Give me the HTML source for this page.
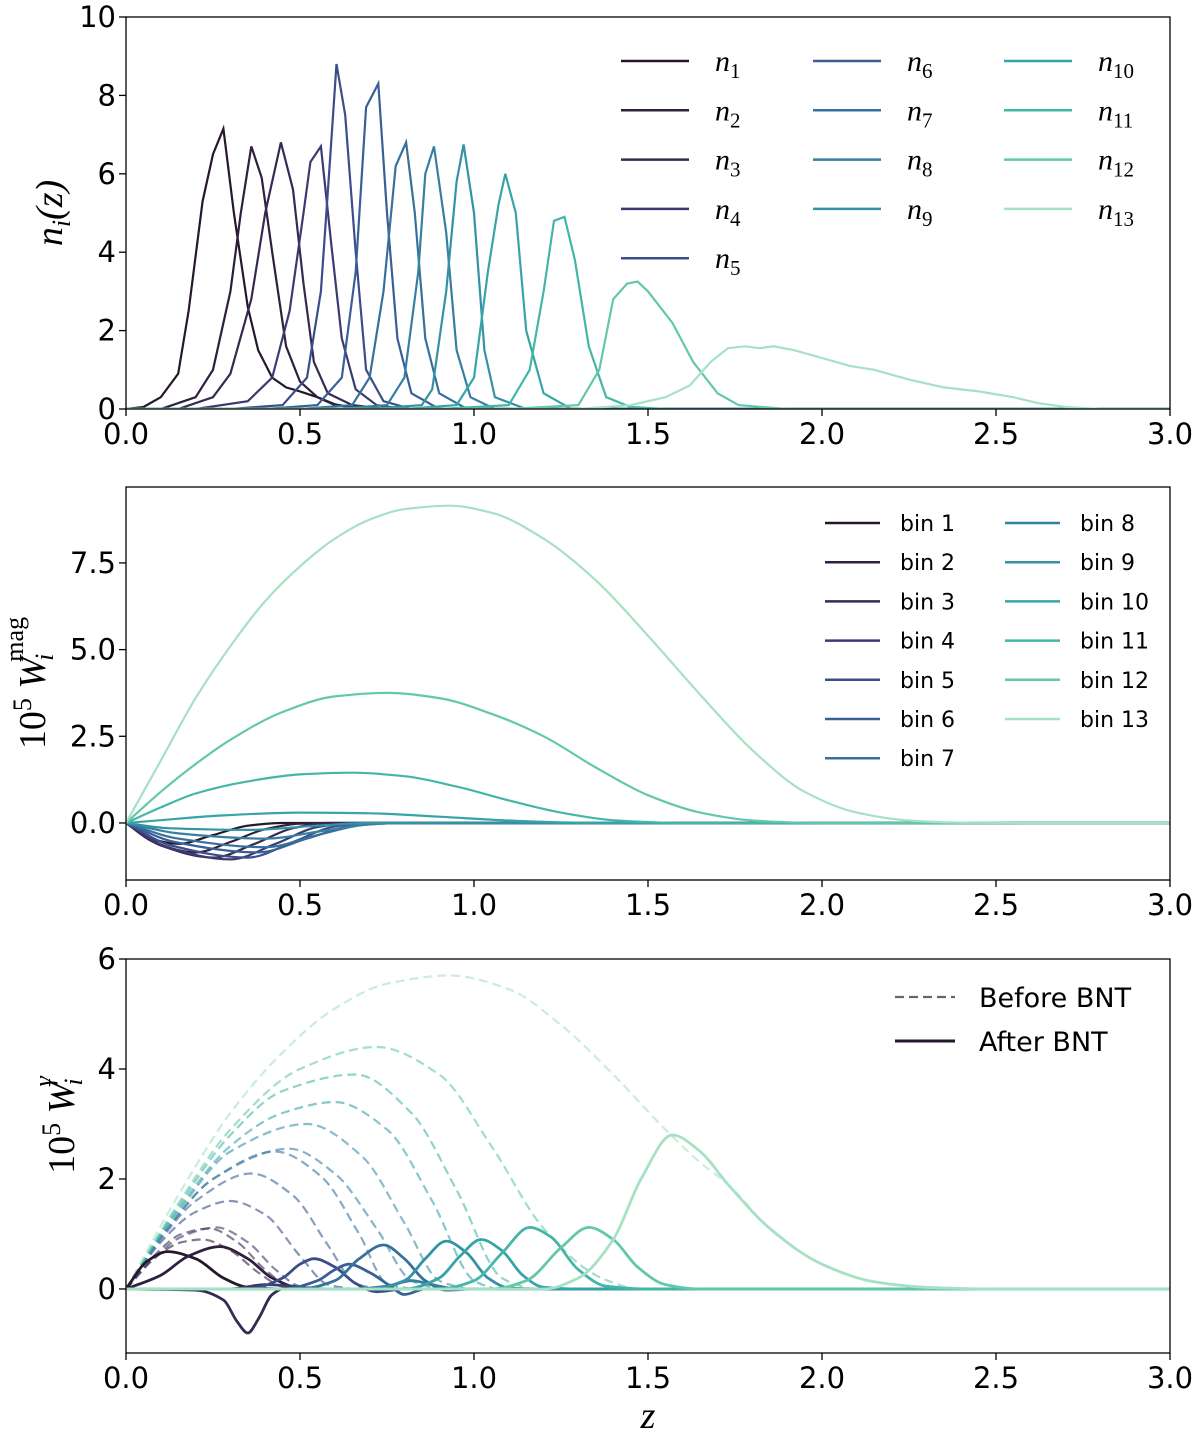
<!DOCTYPE html>
<html><head><meta charset="utf-8"><style>
body{margin:0;background:#fff}
svg{display:block}
text{font-family:"DejaVu Sans","Liberation Sans",sans-serif;fill:#000}
.serif{font-family:"Liberation Serif","DejaVu Serif",serif;font-style:italic}
</style></head><body>
<svg id="c" width="1200" height="1443" viewBox="0 0 1200 1443" xmlns="http://www.w3.org/2000/svg"></svg>
<script>
const colors=["#26172a","#2f1f3e","#362a52","#3b3a72","#3b4d8a","#3a5f96","#38709c","#3580a1","#3592a5","#37a4a8","#44b6a8","#62c8a8","#a6e1c3"];
const xTicks=[0,0.5,1,1.5,2,2.5,3];
const xTickLabels=["0.0","0.5","1.0","1.5","2.0","2.5","3.0"];
const p1YTicks=[0,2,4,6,8,10];
const p2YTicks=[0,2.5,5,7.5];
const p2YTickLabels=["0.0","2.5","5.0","7.5"];
const p3YTicks=[0,2,4,6];
const nz=[
[[0,0],[0.05,0.05],[0.1,0.3],[0.15,0.9],[0.18,2.5],[0.22,5.3],[0.25,6.5],[0.28,7.15],[0.31,5.0],[0.35,2.6],[0.38,1.5],[0.42,0.8],[0.46,0.55],[0.5,0.45],[0.55,0.3],[0.6,0.12],[0.65,0.04],[0.7,0],[3,0]],
[[0,0],[0.1,0],[0.2,0.3],[0.25,1.0],[0.3,3.0],[0.33,5.0],[0.36,6.7],[0.39,5.9],[0.42,4.0],[0.46,1.6],[0.5,0.7],[0.55,0.3],[0.6,0.1],[0.7,0],[3,0]],
[[0,0],[0.15,0],[0.25,0.3],[0.3,0.9],[0.36,2.8],[0.4,5.0],[0.445,6.8],[0.48,5.6],[0.51,3.2],[0.54,1.2],[0.58,0.4],[0.65,0.1],[0.75,0],[3,0]],
[[0,0],[0.2,0],[0.35,0.2],[0.42,0.8],[0.47,2.5],[0.51,5.0],[0.53,6.3],[0.56,6.7],[0.59,4.2],[0.62,1.8],[0.66,0.5],[0.72,0.1],[0.8,0],[3,0]],
[[0,0],[0.3,0],[0.45,0.1],[0.52,0.8],[0.56,3.0],[0.585,6.2],[0.605,8.8],[0.63,7.5],[0.66,4.0],[0.69,1.0],[0.74,0.2],[0.82,0],[3,0]],
[[0,0],[0.4,0],[0.55,0.1],[0.62,0.8],[0.66,3.5],[0.69,7.7],[0.725,8.3],[0.75,5.0],[0.78,1.8],[0.82,0.4],[0.9,0],[3,0]],
[[0,0],[0.5,0],[0.65,0.1],[0.7,0.8],[0.74,3.0],[0.775,6.2],[0.805,6.8],[0.83,5.0],[0.86,1.8],[0.9,0.4],[0.98,0],[3,0]],
[[0,0],[0.6,0],[0.75,0.1],[0.8,0.8],[0.84,3.5],[0.86,6.0],[0.885,6.7],[0.92,4.5],[0.95,1.5],[0.99,0.3],[1.06,0],[3,0]],
[[0,0],[0.7,0],[0.85,0.1],[0.88,0.5],[0.92,3.0],[0.95,5.8],[0.97,6.75],[1.0,5.0],[1.03,1.5],[1.06,0.3],[1.15,0],[3,0]],
[[0,0],[0.8,0],[0.95,0.1],[1.0,0.8],[1.04,3.5],[1.07,5.2],[1.09,6.0],[1.12,5.0],[1.15,2.0],[1.2,0.4],[1.28,0],[3,0]],
[[0,0],[0.9,0],[1.1,0.1],[1.16,1.0],[1.2,3.0],[1.23,4.8],[1.26,4.9],[1.29,3.8],[1.33,1.6],[1.38,0.3],[1.45,0.05],[1.55,0],[3,0]],
[[0,0],[1.1,0],[1.3,0.1],[1.36,1.0],[1.4,2.8],[1.44,3.2],[1.47,3.25],[1.5,3.0],[1.57,2.2],[1.63,1.2],[1.7,0.4],[1.76,0.1],[1.9,0],[3,0]],
[[0,0],[1.3,0],[1.45,0.1],[1.55,0.3],[1.62,0.6],[1.68,1.2],[1.73,1.55],[1.78,1.6],[1.82,1.55],[1.86,1.6],[1.92,1.5],[2.0,1.3],[2.08,1.1],[2.15,1.0],[2.25,0.75],[2.35,0.55],[2.45,0.45],[2.55,0.3],[2.62,0.15],[2.7,0.05],[2.8,0],[3,0]]
];
const wmag=[
[[0,0],[0.07,-0.45],[0.15,-0.6],[0.25,-0.35],[0.35,-0.08],[0.45,0],[3,0]],
[[0,0],[0.08,-0.55],[0.2,-0.85],[0.3,-0.55],[0.4,-0.18],[0.5,-0.02],[0.6,0],[3,0]],
[[0,0],[0.1,-0.65],[0.25,-1.0],[0.37,-0.6],[0.48,-0.15],[0.58,0],[3,0]],
[[0,0],[0.12,-0.7],[0.3,-1.05],[0.43,-0.6],[0.55,-0.12],[0.65,0],[3,0]],
[[0,0],[0.13,-0.65],[0.35,-1.0],[0.48,-0.55],[0.6,-0.1],[0.7,0],[3,0]],
[[0,0],[0.14,-0.55],[0.38,-0.85],[0.52,-0.45],[0.65,-0.08],[0.75,0],[3,0]],
[[0,0],[0.15,-0.45],[0.4,-0.7],[0.55,-0.35],[0.68,-0.06],[0.78,0],[3,0]],
[[0,0],[0.15,-0.3],[0.4,-0.45],[0.57,-0.22],[0.7,-0.04],[0.8,0],[3,0]],
[[0,0],[0.12,-0.15],[0.35,-0.2],[0.55,-0.08],[0.7,0],[3,0]],
[[0,0],[0.1,0.08],[0.25,0.2],[0.5,0.3],[0.7,0.28],[0.9,0.18],[1.1,0.07],[1.3,0.01],[1.5,0],[3,0]],
[[0,0],[0.1,0.45],[0.2,0.85],[0.35,1.2],[0.5,1.4],[0.65,1.45],[0.8,1.35],[0.95,1.05],[1.1,0.65],[1.25,0.3],[1.4,0.08],[1.6,0],[3,0]],
[[0,0],[0.1,0.9],[0.2,1.7],[0.3,2.4],[0.45,3.2],[0.6,3.65],[0.75,3.75],[0.9,3.6],[1.05,3.15],[1.2,2.5],[1.35,1.6],[1.5,0.8],[1.65,0.3],[1.8,0.07],[2,0],[3,0]],
[[0,0],[0.1,1.8],[0.2,3.6],[0.3,5.1],[0.4,6.4],[0.5,7.4],[0.6,8.2],[0.7,8.75],[0.8,9.05],[0.93,9.15],[1.05,8.95],[1.2,8.2],[1.35,7.0],[1.5,5.4],[1.65,3.7],[1.8,2.1],[1.95,0.9],[2.1,0.3],[2.25,0.07],[2.4,0.01],[2.6,0],[3,0]]
];
const wBefore=[
[[0,0],[0.06,0.5],[0.12,0.68],[0.2,0.55],[0.28,0.2],[0.35,0.03],[0.45,0]],
[[0,0],[0.08,0.55],[0.16,0.85],[0.22,0.9],[0.3,0.7],[0.38,0.3],[0.45,0.04],[0.5,0]],
[[0,0],[0.08,0.6],[0.16,1.0],[0.24,1.1],[0.32,0.85],[0.4,0.35],[0.47,0.05],[0.55,0]],
[[0,0],[0.08,0.55],[0.16,0.95],[0.26,1.12],[0.35,0.85],[0.43,0.35],[0.5,0.05],[0.58,0]],
[[0,0],[0.1,0.85],[0.2,1.4],[0.3,1.6],[0.4,1.35],[0.5,0.6],[0.58,0.08],[0.65,0]],
[[0,0],[0.1,0.9],[0.2,1.6],[0.36,2.1],[0.48,1.7],[0.58,0.8],[0.66,0.1],[0.72,0]],
[[0,0],[0.12,1.1],[0.25,2.0],[0.43,2.5],[0.56,2.05],[0.67,1.0],[0.75,0.1],[0.82,0]],
[[0,0],[0.12,1.1],[0.25,2.0],[0.47,2.55],[0.6,2.1],[0.72,1.1],[0.82,0.15],[0.9,0]],
[[0,0],[0.15,1.4],[0.3,2.5],[0.52,3.0],[0.68,2.4],[0.8,1.2],[0.9,0.15],[0.98,0]],
[[0,0],[0.15,1.45],[0.3,2.6],[0.45,3.2],[0.6,3.4],[0.75,2.9],[0.88,1.6],[1.0,0.15],[1.06,0]],
[[0,0],[0.15,1.5],[0.3,2.8],[0.45,3.6],[0.66,3.9],[0.82,3.2],[0.95,1.8],[1.08,0.2],[1.16,0]],
[[0,0],[0.15,1.55],[0.3,2.9],[0.5,4.0],[0.72,4.4],[0.9,3.9],[1.05,2.6],[1.2,1.1],[1.35,0.25],[1.45,0]],
[[0,0],[0.15,1.7],[0.3,3.2],[0.45,4.3],[0.6,5.1],[0.75,5.55],[0.93,5.7],[1.1,5.45],[1.25,4.8],[1.4,3.9],[1.55,2.9],[1.65,2.3],[1.73,1.9],[1.85,1.1],[2.0,0.45],[2.15,0.13],[2.3,0.03],[2.5,0],[3,0]]
];
const wAfter=[
[[0,0],[0.06,0.5],[0.12,0.68],[0.2,0.55],[0.28,0.2],[0.35,0.03],[0.45,0],[3,0]],
[[0,0],[0.1,0.25],[0.18,0.6],[0.27,0.77],[0.35,0.55],[0.42,0.2],[0.5,0.02],[0.6,0],[3,0]],
[[0,0],[0.2,-0.02],[0.28,-0.2],[0.32,-0.6],[0.35,-0.8],[0.38,-0.55],[0.42,-0.1],[0.46,0.02],[0.5,0],[3,0]],
[[0,0],[0.3,0],[0.4,0.08],[0.48,0.05],[0.55,0],[3,0]],
[[0,0],[0.35,0],[0.45,0.2],[0.5,0.45],[0.54,0.55],[0.6,0.4],[0.66,0.1],[0.72,-0.05],[0.8,0],[3,0]],
[[0,0],[0.45,0],[0.55,0.15],[0.6,0.35],[0.64,0.45],[0.7,0.3],[0.76,0.05],[0.8,-0.1],[0.86,0],[3,0]],
[[0,0],[0.5,0],[0.6,0.15],[0.67,0.55],[0.74,0.8],[0.8,0.55],[0.86,0.15],[0.92,-0.02],[1.0,0],[3,0]],
[[0,0],[0.65,0],[0.75,0.05],[0.82,0.15],[0.88,0.08],[0.95,0],[3,0]],
[[0,0],[0.7,0],[0.8,0.15],[0.86,0.55],[0.92,0.87],[0.98,0.65],[1.04,0.2],[1.1,0.02],[1.2,0],[3,0]],
[[0,0],[0.8,0],[0.9,0.2],[0.96,0.6],[1.02,0.9],[1.08,0.7],[1.14,0.25],[1.2,0.03],[1.3,0],[3,0]],
[[0,0],[0.9,0],[1.0,0.15],[1.08,0.65],[1.16,1.12],[1.22,0.95],[1.3,0.35],[1.38,0.05],[1.5,0],[3,0]],
[[0,0],[1.05,0],[1.15,0.15],[1.25,0.75],[1.33,1.12],[1.4,0.9],[1.47,0.4],[1.55,0.08],[1.65,0],[3,0]],
[[0,0],[1.2,0],[1.3,0.2],[1.4,0.9],[1.48,2.0],[1.57,2.8],[1.65,2.5],[1.73,1.9],[1.85,1.1],[2.0,0.45],[2.15,0.13],[2.3,0.03],[2.5,0],[3,0]]
];

const NS="http://www.w3.org/2000/svg";
const svg=document.getElementById('c');
function mk(tag,attrs,parent,txt){const e=document.createElementNS(NS,tag);for(const k in attrs)e.setAttribute(k,attrs[k]);if(txt!==undefined)e.textContent=txt;(parent||svg).appendChild(e);return e;}
const X0=126,X1=1170;
const sx=v=>X0+(X1-X0)*v/3;
const panels=[
 {top:17,bot:409,ymin:0,ymax:10,name:'nz-panel'},
 {top:487,bot:880,ymin:-1.645,ymax:9.69,name:'wmag-panel'},
 {top:959,bot:1353,ymin:-1.164,ymax:6,name:'wgamma-panel'}
];
panels.forEach(p=>{p.sy=v=>p.bot-(p.bot-p.top)*(v-p.ymin)/(p.ymax-p.ymin);});
function linePath(pts,p){return pts.map((q,i)=>(i?'L':'M')+sx(q[0]).toFixed(1)+','+p.sy(q[1]).toFixed(1)).join('');}
// monotone cubic (Fritsch-Carlson) in x
function smoothPath(pts,p){
 const xs=pts.map(q=>sx(q[0])),ys=pts.map(q=>p.sy(q[1]));
 const n=xs.length;const d=[],m=[];
 for(let i=0;i<n-1;i++)d.push((ys[i+1]-ys[i])/(xs[i+1]-xs[i]));
 m[0]=d[0];m[n-1]=d[n-2];
 for(let i=1;i<n-1;i++){ if(d[i-1]*d[i]<=0)m[i]=0; else{const w1=2*(xs[i+1]-xs[i])+(xs[i]-xs[i-1]),w2=(xs[i+1]-xs[i])+2*(xs[i]-xs[i-1]);m[i]=(w1+w2)/(w1/d[i-1]+w2/d[i]);}}
 let s='M'+xs[0].toFixed(1)+','+ys[0].toFixed(1);
 for(let i=0;i<n-1;i++){const h=(xs[i+1]-xs[i])/3;
  s+=`C${(xs[i]+h).toFixed(1)},${(ys[i]+m[i]*h).toFixed(1)} ${(xs[i+1]-h).toFixed(1)},${(ys[i+1]-m[i+1]*h).toFixed(1)} ${xs[i+1].toFixed(1)},${ys[i+1].toFixed(1)}`;}
 return s;
}
function axes(p,yticks,ylabels){
 const g=mk('g',{});
 
 
 xTicks.forEach((t,i)=>{
  mk('line',{x1:sx(t),x2:sx(t),y1:p.bot,y2:p.bot+7,stroke:'#000','stroke-width':1.3},g);
  const tx=mk('text',{x:sx(t),y:p.bot+35,'font-size':29,'text-anchor':'middle'},g,xTickLabels[i]);
  
  
 });
 yticks.forEach((t,i)=>{
  const y=p.sy(t);
  mk('line',{x1:X0-7,x2:X0,y1:y,y2:y,stroke:'#000','stroke-width':1.3},g);
  const tx=mk('text',{x:X0-10,y:y+10,'font-size':29,'text-anchor':'end'},g,ylabels[i]);
  
  
 });
}
function frame(p){const r=mk('rect',{x:X0,y:p.top,width:X1-X0,height:p.bot-p.top,fill:'none',stroke:'#000','stroke-width':1.3});
 
 }
function clip(p,id){const cp=mk('clipPath',{id:id});mk('rect',{x:X0,y:p.top,width:X1-X0,height:p.bot-p.top},cp);}

// Panel 1
let P=panels[0];clip(P,'c1');
axes(P,p1YTicks,p1YTicks.map(String));
let g1=mk('g',{'clip-path':'url(#c1)'});


nz.forEach((s,i)=>{const e=mk('path',{d:linePath(s,P),fill:'none',stroke:colors[i],'stroke-width':2.2},g1);
 
 });
frame(P);
const lg1=mk('g',{});


colors.forEach((c,i)=>{
 const col=i<5?0:(i<9?1:2),row=i<5?i:(i<9?i-5:i-9);
 const lx=[621,813,1004][col],ly=61+row*49.3;
 mk('line',{x1:lx,x2:lx+68,y1:ly,y2:ly,stroke:c,'stroke-width':2.5},lg1);
 const t=mk('text',{x:lx+94,y:ly+10,'font-size':30,class:'serif'},lg1);
 
 
 mk('tspan',{},t,'n');mk('tspan',{dy:7,'font-size':21,'font-style':'normal'},t,String(i+1));
});
let yl=mk('text',{transform:'translate(62,213) rotate(-90)','font-size':38,'text-anchor':'middle',class:'serif'},svg);


mk('tspan',{},yl,'n');mk('tspan',{dy:8,'font-size':26},yl,'i');mk('tspan',{dy:-8},yl,'(z)');

// Panel 2
P=panels[1];clip(P,'c2');
axes(P,p2YTicks,p2YTickLabels);
let g2=mk('g',{'clip-path':'url(#c2)'});


wmag.forEach((s,i)=>{const e=mk('path',{d:smoothPath(s,P),fill:'none',stroke:colors[i],'stroke-width':2.2},g2);
 
 });
frame(P);
const lg2=mk('g',{});


colors.forEach((c,i)=>{
 const col=i<7?0:1,row=i<7?i:i-7;
 const lx=[825,1005][col],ly=523+row*39.2;
 mk('line',{x1:lx,x2:lx+55,y1:ly,y2:ly,stroke:c,'stroke-width':2.5},lg2);
 const t=mk('text',{x:lx+75,y:ly+8,'font-size':22},lg2,'bin '+(i+1));
 
 
});
yl=mk('text',{transform:'translate(45,683) rotate(-90)','font-size':38,'text-anchor':'middle',class:'serif'},svg);


mk('tspan',{'font-style':'normal'},yl,'10');mk('tspan',{dy:-14,'font-size':26,'font-style':'normal'},yl,'5');
mk('tspan',{dy:14},yl,' W');mk('tspan',{dy:8,'font-size':26,dx:-4},yl,'i');mk('tspan',{dy:-30,'font-size':26,dx:-8,'font-style':'normal'},yl,'mag');

// Panel 3
P=panels[2];clip(P,'c3');
axes(P,p3YTicks,p3YTicks.map(String));
let g3=mk('g',{'clip-path':'url(#c3)'});


wBefore.forEach((s,i)=>{const e=mk('path',{d:smoothPath(s,P),fill:'none',stroke:colors[i],'stroke-width':2.2,'stroke-dasharray':'9,5',opacity:0.6},g3);
 
 });
wAfter.forEach((s,i)=>{const e=mk('path',{d:smoothPath(s,P),fill:'none',stroke:colors[i],'stroke-width':2.8},g3);
 
 });
frame(P);
const lg3=mk('g',{});


mk('line',{x1:895,x2:955,y1:997,y2:997,stroke:'#666','stroke-width':2.2,'stroke-dasharray':'9,5'},lg3);
let t3=mk('text',{x:979,y:1007,'font-size':27},lg3,'Before BNT');


mk('line',{x1:895,x2:955,y1:1041,y2:1041,stroke:'#26172a','stroke-width':3},lg3);
t3=mk('text',{x:979,y:1051,'font-size':27},lg3,'After BNT');


yl=mk('text',{transform:'translate(74,1125) rotate(-90)','font-size':38,'text-anchor':'middle',class:'serif'},svg);


mk('tspan',{'font-style':'normal'},yl,'10');mk('tspan',{dy:-14,'font-size':26,'font-style':'normal'},yl,'5');
mk('tspan',{dy:14},yl,' W');mk('tspan',{dy:8,'font-size':26,dx:-4},yl,'i');mk('tspan',{dy:-30,'font-size':26,dx:-8},yl,'γ');
const xl=mk('text',{x:648,y:1428,'font-size':38,'text-anchor':'middle',class:'serif'},svg,'z');


</script>
</body></html>
